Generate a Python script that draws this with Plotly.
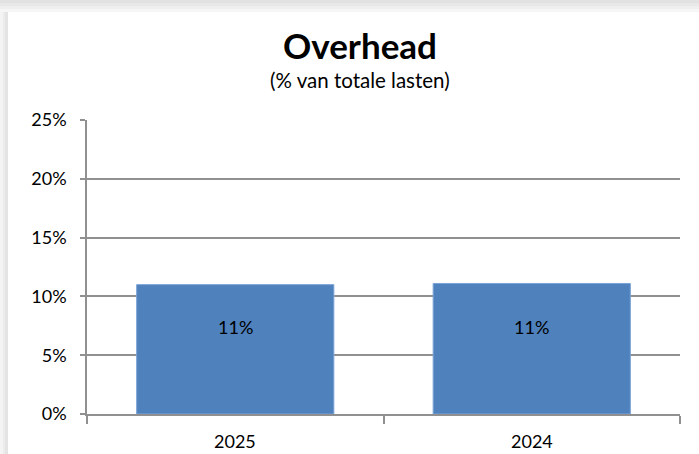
import plotly.graph_objects as go

# Overhead as share of total expenses, per year
years = ["2025", "2024"]
overhead_pct = [11.0, 11.1]
y_ticks = [0, 5, 10, 15, 20, 25]
y_tick_labels = ["0%", "5%", "10%", "15%", "20%", "25%"]

W, H = 699, 454
L, R, T, B = 87, 19, 120, 40
pw = W - L - R
ph = H - T - B


def px_x(x):
    return (x - L) / pw


def px_y(y):
    return (H - B - y) / ph


font_family = "Lato, 'Open Sans', sans-serif"

fig = go.Figure()
fig.add_trace(go.Bar(
    x=years,
    y=overhead_pct,
    marker=dict(color="#4f81bd", line=dict(color="#7aa3d6", width=1)),
    hoverinfo="skip",
))

# value labels sit in the upper-middle part of each bar
annotations = [
    dict(text=f"{v:.0f}%", x=i, y=v * 0.67, xref="x", yref="y",
         showarrow=False, xanchor="center", yanchor="middle",
         font=dict(family=font_family, size=18, color="#000000"))
    for i, v in enumerate(overhead_pct)
]

# category labels, set a little further below the axis
annotations += [
    dict(text=yr, x=i, y=px_y(441), xref="x", yref="paper",
         showarrow=False, xanchor="center", yanchor="middle",
         font=dict(family=font_family, size=18, color="#000000"))
    for i, yr in enumerate(years)
]

annotations += [
    dict(text="<b>Overhead</b>", xref="paper", yref="paper",
         x=px_x(360), y=px_y(45), xanchor="center", yanchor="middle",
         showarrow=False, font=dict(family=font_family, size=35, color="#000000")),
    dict(text="(% van totale lasten)", xref="paper", yref="paper",
         x=px_x(360), y=px_y(80), xanchor="center", yanchor="middle",
         showarrow=False, font=dict(family=font_family, size=20.5, color="#000000")),
]

# soft shadow along the top and left edges of the chart card
shapes = []
shadow_steps = [("#e2e2e2", 0), ("#e8e8e8", 3), ("#efefef", 6), ("#f6f6f6", 9)]
for col, off in shadow_steps:
    shapes.append(dict(type="rect", xref="paper", yref="paper", layer="below",
                       x0=px_x(0), x1=px_x(W), y0=px_y(off), y1=px_y(off + 3),
                       fillcolor=col, line=dict(width=0)))
for col, off in [("#f4f4f4", 0), ("#ececec", 3), ("#e4e4e4", 5)]:
    shapes.append(dict(type="rect", xref="paper", yref="paper", layer="below",
                       x0=px_x(off), x1=px_x(off + 3 if off < 5 else 8),
                       y0=px_y(H), y1=px_y(12),
                       fillcolor=col, line=dict(width=0)))

fig.update_layout(
    width=W, height=H,
    margin=dict(l=L, r=R, t=T, b=B, pad=0),
    paper_bgcolor="#ffffff",
    plot_bgcolor="#ffffff",
    showlegend=False,
    bargap=0.335,
    shapes=shapes,
    annotations=annotations,
    xaxis=dict(
        type="category",
        categoryorder="array", categoryarray=years,
        showline=True, linecolor="#909090", linewidth=1.5,
        ticks="outside", tickson="boundaries", ticklen=8, tickcolor="#909090", tickwidth=1.5,
        showticklabels=False,
        showgrid=False,
    ),
    yaxis=dict(
        range=[0, 25],
        tickvals=y_ticks, ticktext=y_tick_labels,
        showline=True, linecolor="#909090", linewidth=1.5,
        ticks="outside", ticklen=5, tickcolor="#909090", tickwidth=1.5,
        showgrid=True, gridcolor="#909090", gridwidth=1.5,
        zeroline=False,
        tickfont=dict(family=font_family, size=18, color="#000000"),
        ticklabelstandoff=10,
    ),
)

fig.write_html("out.html")
